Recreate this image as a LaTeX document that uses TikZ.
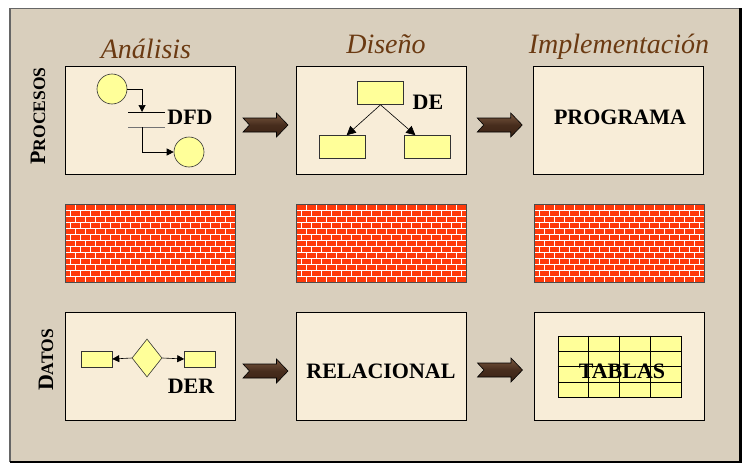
\documentclass[tikz,border=0pt]{standalone}
\usepackage{fontspec}
\setmainfont{Liberation Serif}
\usetikzlibrary{shapes.geometric,arrows.meta,calc,positioning}

\definecolor{canvasbg}{HTML}{D9CFBD}
\definecolor{parchment}{HTML}{F8EDD8}
\definecolor{titlebrown}{HTML}{6B3A12}
\definecolor{symyellow}{HTML}{FFFF99}
\definecolor{brickred}{HTML}{FF3A0A}
\definecolor{wooddark}{HTML}{3A2214}
\definecolor{woodmid}{HTML}{7A5840}

% versalitas hechas a mano
\newcommand*{\capsword}[2]{%
  {\fontsize{22}{22}\selectfont #1}{\fontsize{17.5}{17.5}\selectfont #2}%
}
% muro de ladrillos, esquina superior izquierda en (#1,#2)
\newcommand*{\brickwall}[2]{%
  \begin{scope}[shift={(#1,#2)}]
    \clip (0,0) rectangle (170,78);
    \fill[brickred] (0,0) rectangle (170,78);
    \foreach \r in {0,...,12}{
      \draw[white, line width=1.1pt] (0,6*\r+0.6) -- (170,6*\r+0.6);
      \pgfmathsetmacro\off{mod(\r,2)*5}
      \foreach \c in {0,...,17}
        \draw[white, line width=0.9pt] (\off+10*\c,6*\r) -- (\off+10*\c,6*\r+6);
    }
  \end{scope}
  \draw[black!70, line width=1pt] (#1,#2) rectangle ++(170,78);
}

\tikzset{
  panel/.style={draw=black, line width=0.8pt, fill=parchment,
    minimum width=170pt, minimum height=108pt, inner sep=0pt},
  stage/.style={font=\fontsize{28}{28}\selectfont\itshape, text=titlebrown, anchor=base},
  tag/.style={font=\fontsize{22}{22}\selectfont\bfseries, anchor=base},
  rowname/.style={font=\bfseries, rotate=90},
  sym/.style={draw=black!80, fill=symyellow, line width=0.6pt, inner sep=0pt},
  symbox/.style={sym, minimum width=46pt, minimum height=23pt},
  flow/.style={-{Triangle[length=7pt,width=7pt]}, line width=0.6pt},
  bigflow/.style={-{Triangle[length=9pt,width=9pt]}, line width=0.6pt},
  flowarrow/.pic={
    \shadedraw[top color=woodmid, bottom color=wooddark, middle color=wooddark!80!woodmid,
      draw=black, line width=0.6pt]
      (-22.5,-7) -- (11,-7) -- (11,-12) -- (22.5,0) -- (11,12) -- (11,7)
      -- (-22.5,7) -- (-16,0) -- cycle;
  }
}

\begin{document}
\begin{tikzpicture}[x=1pt, y=-1pt]
\useasboundingbox (0,0) rectangle (742,463);
\fill[canvasbg] (10,8) rectangle (740,462);
\draw[black!60, line width=1.2pt] (10,462) -- (10,8.5) -- (740,8.5);
\fill[black] (739,8) rectangle (742,463);
\fill[black] (10,461) rectangle (742,463);

% etapas
\node[stage] (analisis) at (146,58) {Análisis};
\node[stage] (diseno) at (386,53) {Diseño};
\node[stage] (implem) at (619,53) {Implementación};

\node[rowname] (procesos) at (38,116) {\capsword{P}{ROCESOS}};
\node[rowname] (datos) at (46,360) {\capsword{D}{ATOS}};

% procesos
\node[panel] (dfd) at (150,120) {};
\node[panel] (de) at (381,120) {};
\node[panel] (prog) at (618.5,120) {};

\node[sym, circle, minimum size=30pt] (ext1) at (112,89) {};
\node[sym, circle, minimum size=30pt] (ext2) at (189,152) {};
\coordinate (st1) at (128,112);
\coordinate (st1e) at (165,112);
\coordinate (st2) at (128,127);
\coordinate (st2e) at (165,127);
\coordinate (in1) at ($(st1)!0.38!(st1e)$);
\coordinate (out1) at ($(st2)!0.38!(st2e)$);
\draw[line width=0.8pt] (st1) -- (st1e);
\draw[black!55, line width=0.8pt] (st2) -- (st2e);
\draw[flow] (ext1.east) -| (in1);
\draw[flow] (out1) |- (ext2.west);
\node[tag] (dfdtag) at (190,124) {DFD};

\node[symbox] (ent) at (380.5,93) {};
\node[symbox] (entL) at (342,147) {};
\node[symbox] (entR) at (427,147) {};
\draw[bigflow] (ent.south) -- ($(entL.north west)!0.6!(entL.north east)$);
\draw[bigflow] (ent.south) -- ($(entR.north west)!0.25!(entR.north east)$);
\node[tag] (detag) at (428,109) {DE};

\node[tag] (progtag) at (620,124) {PROGRAMA};

% muros
\brickwall{65}{204}
\brickwall{296}{204}
\brickwall{534}{204}

% datos
\node[panel] (der) at (150,366) {};
\node[panel] (rel) at (381,366) {};
\node[panel] (tab) at (619,366) {};

\node[sym, minimum width=31pt, minimum height=16pt] (entA) at (96.5,359) {};
\node[sym, diamond, minimum width=30pt, minimum height=38pt] (rela) at (147,358) {};
\node[sym, minimum width=31pt, minimum height=16pt] (entB) at (200,359) {};
\draw[flow] (rela.west) -- (entA.east);
\draw[flow] (rela.east) -- (entB.west);
\node[tag] (dertag) at (191,393) {DER};

\node[tag] (reltag) at (381,378) {RELACIONAL};

\node[sym, draw=black, line width=0.8pt, minimum width=123pt, minimum height=61pt] (grid) at (619.5,366.5) {};
\foreach \i in {1,2,3}{
  \draw[line width=0.8pt] ($(grid.north west)!\i/4!(grid.north east)$) -- ($(grid.south west)!\i/4!(grid.south east)$);
  \draw[line width=0.8pt] ($(grid.north west)!\i/4!(grid.south west)$) -- ($(grid.north east)!\i/4!(grid.south east)$);
}
\node[tag] (tabtag) at (622,378) {TABLAS};

% flechas entre etapas
\pic at ($(dfd.east)!0.5!(de.west)+(0,5)$) {flowarrow};
\pic at ($(de.east)!0.5!(prog.west)+(0,5)$) {flowarrow};
\pic at ($(der.east)!0.5!(rel.west)+(0,5)$) {flowarrow};
\pic at ($(rel.east)!0.5!(tab.west)+(0,4)$) {flowarrow};
\end{tikzpicture}
\end{document}
